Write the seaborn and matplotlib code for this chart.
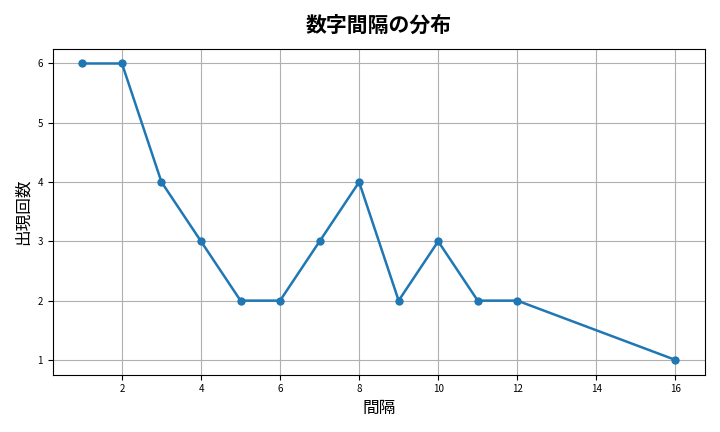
import matplotlib
matplotlib.use("Agg")
import matplotlib.pyplot as plt
import seaborn as sns
import pandas as pd

gaps = [1, 2, 3, 4, 5, 6, 7, 8, 9, 10, 11, 12, 16]
counts = [6, 6, 4, 3, 2, 2, 3, 4, 2, 3, 2, 2, 1]

plt.rcParams['font.family'] = ['Noto Sans CJK JP', 'DejaVu Sans']
df = pd.DataFrame({"gap": gaps, "count": counts})
fig, ax = plt.subplots(figsize=(7.2, 4.32), dpi=100)
sns.lineplot(data=df, x="gap", y="count", marker="o", markeredgewidth=0, markersize=6,
             linewidth=1.8, color="#1f77b4", ax=ax)
ax.set_title("数字間隔の分布", fontsize=15, fontweight="bold", pad=12)
ax.set_xlabel("間隔", fontsize=12)
ax.set_ylabel("出現回数", fontsize=12)
ax.set_xticks([2, 4, 6, 8, 10, 12, 14, 16])
ax.set_yticks([1, 2, 3, 4, 5, 6])
ax.tick_params(labelsize=7)
ax.grid(True, color="#b0b0b0", linewidth=0.8)
fig.tight_layout()
fig.savefig("out.png")
